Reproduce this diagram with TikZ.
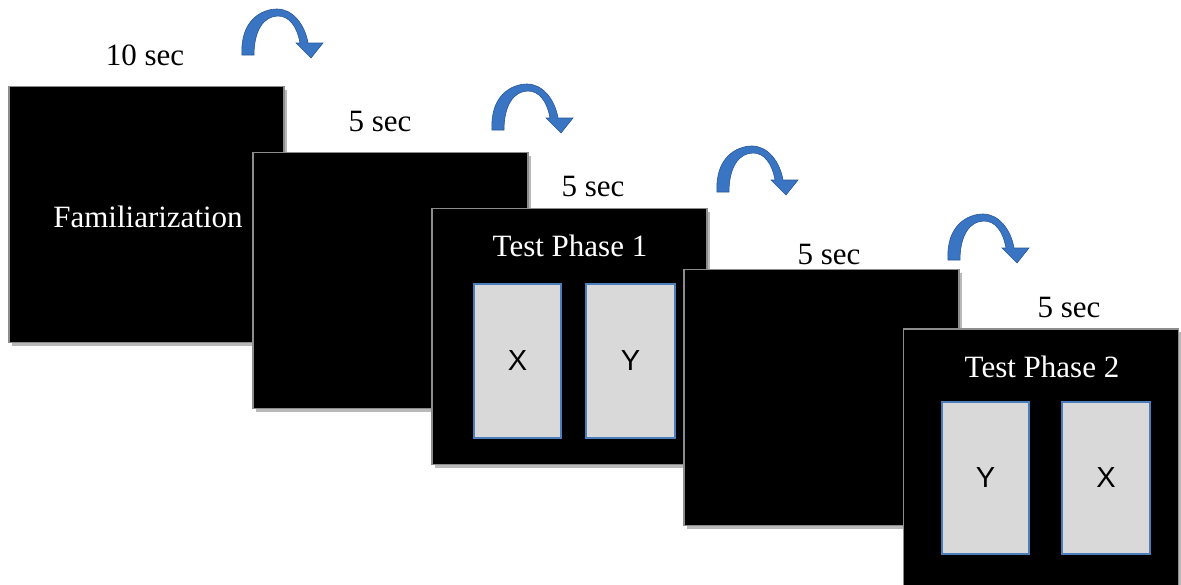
\documentclass[tikz,border=0pt]{standalone}
\usepackage{fontspec}
\setmainfont{Liberation Serif}
\newfontfamily\armfont{Liberation Sans}
\usetikzlibrary{shadows}
\definecolor{arrowblue}{RGB}{58,117,196}
\definecolor{arrowdark}{RGB}{40,88,152}
\definecolor{cardgray}{RGB}{217,217,217}
\definecolor{cardblue}{RGB}{74,126,187}
\tikzset{
  screen/.style={rectangle, fill=black, draw=gray!90, line width=1.6pt,
    minimum width=275pt, minimum height=256pt, inner sep=0pt,
    drop shadow={shadow xshift=3pt, shadow yshift=-3pt, fill=gray!55, opacity=1}},
  card/.style={rectangle, fill=cardgray, draw=cardblue, line width=1.3pt,
    minimum width=87pt, minimum height=154pt, inner sep=0pt,
    font=\armfont\fontsize{29}{34}\selectfont},
  timelabel/.style={anchor=base, font=\fontsize{31}{37}\selectfont, inner sep=0pt},
  screentext/.style={anchor=base, text=white, font=\fontsize{31}{37}\selectfont, inner sep=0pt},
  curvearrow/.pic={
    \fill[arrowblue, draw=arrowdark, line width=0.6pt]
      (0,0) .. controls (-2,-35) and (20,-46) .. (35,-46)
      .. controls (51,-46) and (63,-30) .. (66,-12)
      -- (81,-12) -- (69,3) -- (54,-12) -- (58,-12)
      .. controls (55,-29) and (47,-39) .. (36,-39)
      .. controls (22,-39) and (12,-25) .. (12,0) -- cycle;
  }
}
\begin{document}
\begin{tikzpicture}[x=1pt,y=-1pt]
\useasboundingbox (0,0) rectangle (1181,584);
\fill[white] (0,0) rectangle (1181,584);

% screens
\node[screen] (s1) at (146.5,214.5) {};
\node[screen] (s2) at (390.5,280.5) {};
\node[screen] (s3) at (569.5,336.5) {};
\node[screen] (s4) at (821.5,397.5) {};
\node[screen, minimum height=261pt] (s5) at (1041,459.5) {};

% screen contents
\node[screentext] (fam) at (148,227) {Familiarization};
\node[screentext] (tp1) at (570,256) {Test Phase 1};
\node[screentext] (tp2) at (1042,377) {Test Phase 2};
\node[card] (c1x) at (517.5,361) {X};
\node[card, minimum width=89pt] (c1y) at (630.5,361) {Y};
\node[card, minimum height=152pt] (c2y) at (985.5,478) {Y};
\node[card, minimum width=88pt, minimum height=152pt] (c2x) at (1106,478) {X};

% time labels
\node[timelabel] (t1) at (145,65) {10 sec};
\node[timelabel] (t2) at (380,131) {5 sec};
\node[timelabel] (t3) at (593,196) {5 sec};
\node[timelabel] (t4) at (829,264) {5 sec};
\node[timelabel] (t5) at (1069,317) {5 sec};

% curved arrows
\pic at (242,55) {curvearrow};
\pic at (492,130) {curvearrow};
\pic at (717,192) {curvearrow};
\pic at (948,260) {curvearrow};
\end{tikzpicture}
\end{document}
